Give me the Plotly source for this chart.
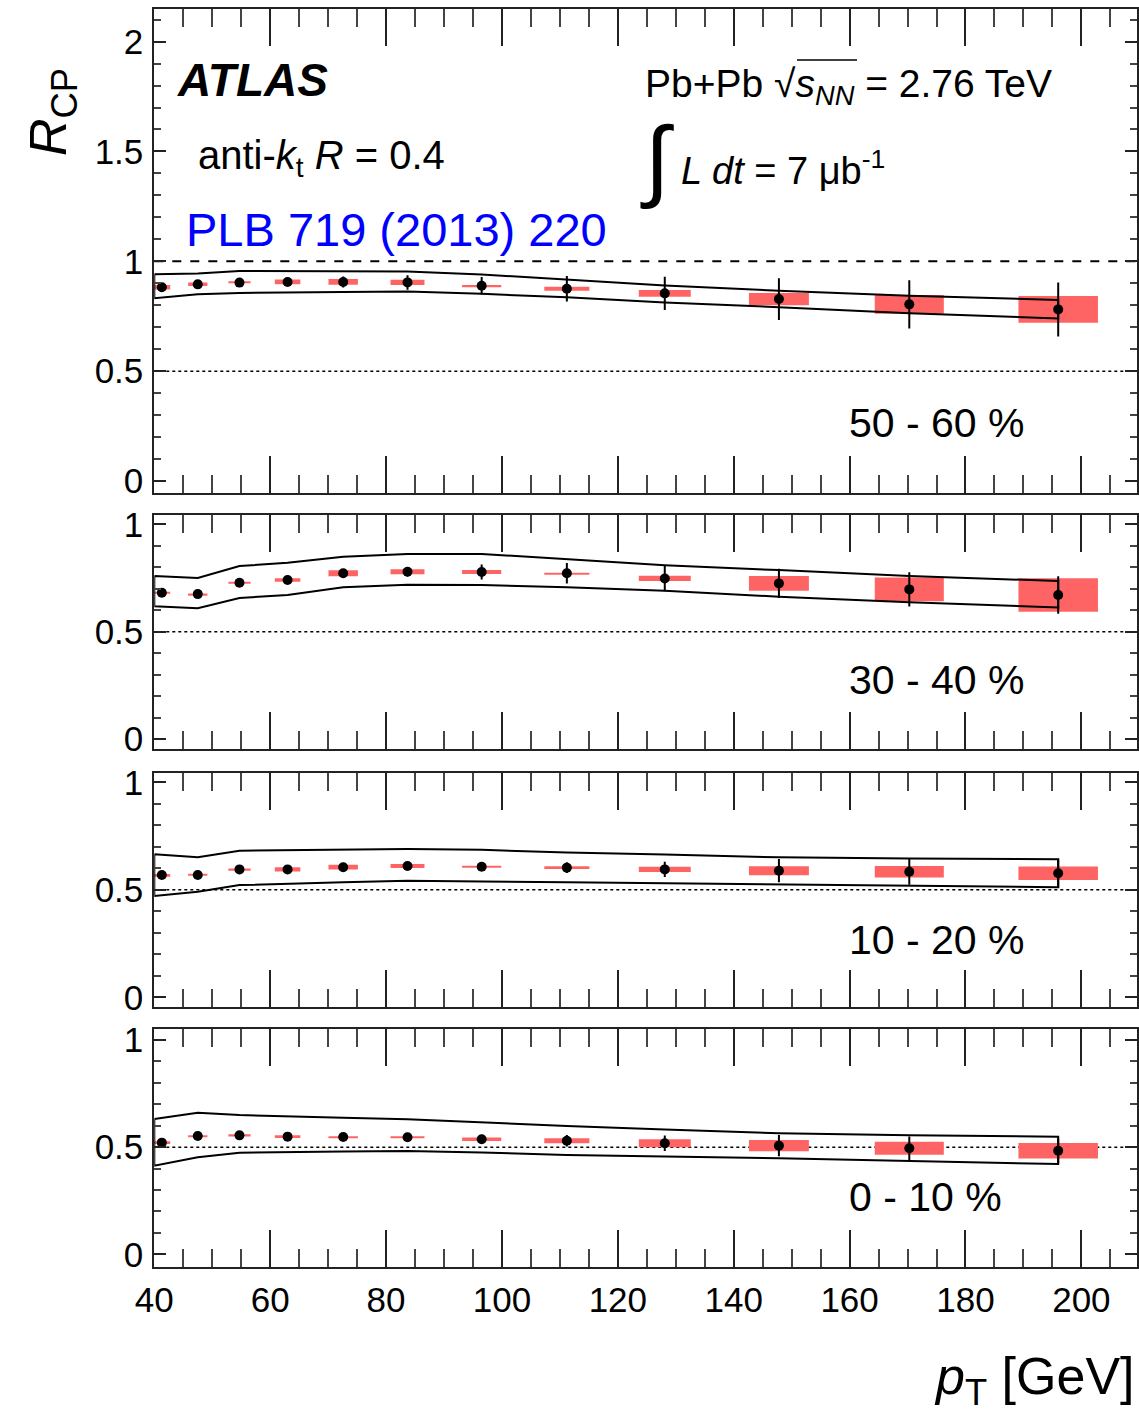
import plotly.graph_objects as go

W, H = 1139, 1420
FONT = "Liberation Sans, Arial, Helvetica, sans-serif"

# Jet pT bin centres [GeV]
pt = [41.3, 47.5, 54.7, 63.0, 72.6, 83.7, 96.5, 111.2, 128.1, 147.8, 170.3, 196.0]
# pT nodes of the uncertainty envelope
band_pt = [40.0, 47.5, 54.7, 63.0, 72.6, 83.7, 96.5, 111.2, 128.1, 147.8, 170.3, 196.0]

centrality = ["50 - 60 %", "30 - 40 %", "10 - 20 %", "0 - 10 %"]

# 50-60 %
rcp_50_60 = [0.882, 0.895, 0.903, 0.906, 0.906, 0.904, 0.889, 0.875, 0.854, 0.828, 0.804, 0.781]
stat_50_60 = [0.012, 0.012, 0.014, 0.016, 0.025, 0.033, 0.040, 0.058, 0.076, 0.095, 0.110, 0.123]
sys_50_60 = [0.010, 0.008, 0.003, 0.011, 0.013, 0.012, 0.003, 0.009, 0.015, 0.028, 0.043, 0.061]
band_hi_50_60 = [0.941, 0.945, 0.956, 0.956, 0.955, 0.953, 0.940, 0.918, 0.890, 0.866, 0.843, 0.824]
band_lo_50_60 = [0.832, 0.850, 0.856, 0.858, 0.860, 0.862, 0.852, 0.836, 0.812, 0.791, 0.763, 0.740]

# 30-40 %
rcp_30_40 = [0.681, 0.675, 0.728, 0.741, 0.772, 0.779, 0.778, 0.772, 0.748, 0.725, 0.697, 0.671]
stat_30_40 = [0.012, 0.012, 0.014, 0.016, 0.018, 0.022, 0.035, 0.048, 0.060, 0.068, 0.080, 0.087]
sys_30_40 = [0.004, 0.003, 0.003, 0.008, 0.014, 0.012, 0.009, 0.002, 0.012, 0.034, 0.055, 0.078]
band_hi_30_40 = [0.759, 0.750, 0.806, 0.821, 0.849, 0.862, 0.862, 0.838, 0.809, 0.787, 0.759, 0.736]
band_lo_30_40 = [0.619, 0.609, 0.657, 0.671, 0.707, 0.719, 0.717, 0.707, 0.691, 0.663, 0.637, 0.613]

# 10-20 %
rcp_10_20 = [0.569, 0.569, 0.595, 0.595, 0.605, 0.611, 0.607, 0.603, 0.595, 0.589, 0.584, 0.577]
stat_10_20 = [0.016, 0.016, 0.016, 0.016, 0.018, 0.018, 0.020, 0.025, 0.035, 0.054, 0.060, 0.067]
sys_10_20 = [0.004, 0.003, 0.004, 0.010, 0.011, 0.009, 0.002, 0.006, 0.012, 0.021, 0.027, 0.031]
band_hi_10_20 = [0.665, 0.651, 0.682, 0.684, 0.687, 0.690, 0.686, 0.673, 0.664, 0.651, 0.646, 0.642]
band_lo_10_20 = [0.471, 0.491, 0.522, 0.528, 0.535, 0.542, 0.539, 0.535, 0.531, 0.527, 0.520, 0.512]

# 0-10 %
rcp_0_10 = [0.521, 0.552, 0.555, 0.549, 0.547, 0.546, 0.537, 0.530, 0.518, 0.507, 0.495, 0.483]
stat_0_10 = [0.016, 0.016, 0.016, 0.016, 0.016, 0.018, 0.020, 0.027, 0.036, 0.050, 0.055, 0.058]
sys_0_10 = [0.006, 0.003, 0.005, 0.006, 0.003, 0.003, 0.008, 0.012, 0.019, 0.026, 0.030, 0.036]
band_hi_0_10 = [0.631, 0.661, 0.650, 0.643, 0.637, 0.630, 0.615, 0.599, 0.582, 0.565, 0.556, 0.549]
band_lo_0_10 = [0.413, 0.453, 0.474, 0.477, 0.480, 0.482, 0.475, 0.463, 0.456, 0.448, 0.436, 0.421]

panels = [
    (rcp_50_60, stat_50_60, sys_50_60, band_hi_50_60, band_lo_50_60),
    (rcp_30_40, stat_30_40, sys_30_40, band_hi_30_40, band_lo_30_40),
    (rcp_10_20, stat_10_20, sys_10_20, band_hi_10_20, band_lo_10_20),
    (rcp_0_10, stat_0_10, sys_0_10, band_hi_0_10, band_lo_0_10),
]

# pad geometry in pixels (top, bottom) and y ranges
pad_px = [(9.3, 493.3), (514.7, 749.3), (772.7, 1007.3), (1029.3, 1266.7)]
y_ranges = [(-0.056, 2.147), (-0.048, 1.045), (-0.0465, 1.0447), (-0.058, 1.050)]
x_range = (40.0, 209.6)
x_dom = [154.3 / W, 1137.0 / W]
label_y_px = [423, 680, 940, 1197]

SYS_COLOR = "#ff6464"


def fx(px):
    return px / W


def fy(py):
    return 1 - py / H


fig = go.Figure()
layout = dict(
    width=W, height=H,
    margin=dict(l=0, r=0, t=0, b=0, autoexpand=False),
    paper_bgcolor="white", plot_bgcolor="white",
    showlegend=False, barmode="overlay",
    font=dict(family=FONT, color="black"),
)
shapes = []
annotations = []

for i, (vals, stat, sysu, bhi, blo) in enumerate(panels):
    n = i + 1
    xa = "x" if n == 1 else f"x{n}"
    ya = "y" if n == 1 else f"y{n}"
    top, bot = pad_px[i]

    # systematic uncertainty boxes
    fig.add_trace(go.Bar(
        x=pt, y=[2 * s for s in sysu], base=[v - s for v, s in zip(vals, sysu)],
        width=[0.07 * p for p in pt],
        marker=dict(color=SYS_COLOR, line=dict(width=0)),
        xaxis=xa, yaxis=ya, hoverinfo="skip",
    ))

    # envelope outline
    fig.add_trace(go.Scatter(
        x=band_pt + band_pt[::-1] + [band_pt[0]],
        y=bhi + blo[::-1] + [bhi[0]],
        mode="lines", line=dict(color="black", width=2),
        xaxis=xa, yaxis=ya, hoverinfo="skip",
    ))

    # data points with statistical errors
    fig.add_trace(go.Scatter(
        x=pt, y=vals, mode="markers",
        marker=dict(color="black", size=10),
        error_y=dict(type="data", array=stat, color="black", thickness=2, width=0),
        xaxis=xa, yaxis=ya,
    ))

    xkey = "xaxis" if n == 1 else f"xaxis{n}"
    ykey = "yaxis" if n == 1 else f"yaxis{n}"
    layout[xkey] = dict(
        domain=x_dom, anchor=ya, range=list(x_range), automargin=False,
        tick0=40, dtick=20, ticks="inside", ticklen=37, tickwidth=2, tickcolor="#222",
        minor=dict(dtick=5, ticks="inside", ticklen=18, tickwidth=1.5, tickcolor="#444"),
        showline=True, linewidth=2, linecolor="#222", mirror="ticks",
        showgrid=False, zeroline=False,
        showticklabels=(n == 4), tickfont=dict(size=35, family=FONT, color="black"),
        ticklabelstandoff=1,
    )
    layout[ykey] = dict(
        domain=[fy(bot), fy(top)], anchor=xa, range=list(y_ranges[i]), automargin=False,
        tick0=0, dtick=0.5, ticks="inside", ticklen=12, tickwidth=2, tickcolor="#222",
        minor=dict(dtick=0.1, ticks="inside", ticklen=7, tickwidth=1.5, tickcolor="#444"),
        showline=True, linewidth=2, linecolor="#222", mirror="ticks",
        showgrid=False, zeroline=False,
        tickfont=dict(size=35, family=FONT, color="black"),
        ticklabelstandoff=2,
    )

    # reference line at 0.5 (dotted) in each pad
    shapes.append(dict(type="line", xref=f"{xa} domain", yref=ya, x0=0, x1=1, y0=0.5, y1=0.5,
                       line=dict(color="black", width=1.5, dash="dot"), layer="below"))

    annotations.append(dict(text=centrality[i], xref="paper", yref="paper",
                            x=fx(847), y=fy(label_y_px[i]), xanchor="left", yanchor="middle",
                            showarrow=False, font=dict(size=41, family=FONT, color="black")))

# unity line in the top pad
shapes.append(dict(type="line", xref="x domain", yref="y", x0=0, x1=1, y0=1, y1=1,
                   line=dict(color="black", width=2, dash="dash"), layer="below"))

# overline of the square root
shapes.append(dict(type="line", xref="paper", yref="paper",
                   x0=fx(797), x1=fx(857), y0=fy(60), y1=fy(60),
                   line=dict(color="black", width=1.5)))


def note(text, x, y, size, xanchor="left", yanchor="middle", color="black", angle=0):
    annotations.append(dict(text=text, xref="paper", yref="paper", x=fx(x), y=fy(y),
                            xanchor=xanchor, yanchor=yanchor, showarrow=False, textangle=angle,
                            font=dict(size=size, family=FONT, color=color)))


note("<b><i>ATLAS</i></b>", 175, 80, 46)
note("anti-<i>k</i><sub>t</sub> <i>R</i> = 0.4", 196, 158, 40)
note("PLB 719 (2013) 220", 184, 229, 47, color="#0000ff")
note("Pb+Pb √<i>s</i><sub><i>NN</i></sub> = 2.76 TeV", 643, 86, 39)
note("∫", 638, 160, 90)
note("<i>L dt</i> = 7 μb<sup>-1</sup>", 679, 168, 38)
note("<i>R</i><sub>CP</sub>", 52, 112, 52, xanchor="center", angle=-90)
note("<i>p</i><sub>T</sub> [GeV]", 1137, 1380, 52, xanchor="right")

layout["shapes"] = shapes
layout["annotations"] = annotations
fig.update_layout(**layout)

fig.write_html("out.html")
